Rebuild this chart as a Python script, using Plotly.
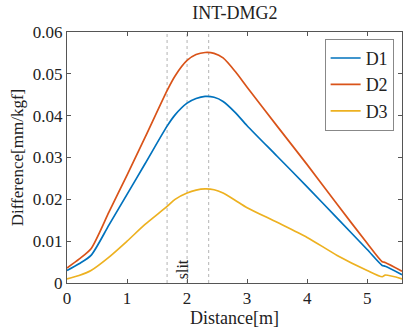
import plotly.graph_objects as go

distance = [0, 0.2, 0.4, 0.7, 1.0, 1.3, 1.667, 1.8, 2.0, 2.15, 2.3, 2.45, 2.6, 2.8, 3.0,
            3.5, 4.0, 4.5, 5.0, 5.25, 5.3, 5.58]
d1 = [0.0030, 0.0046, 0.0066, 0.0139, 0.0212, 0.0285, 0.0375, 0.0402, 0.0430, 0.0441, 0.0446,
      0.0444, 0.0434, 0.0408, 0.0376, 0.0303, 0.0230, 0.0155, 0.0080, 0.0042, 0.0040, 0.0020]
d2 = [0.0036, 0.0057, 0.0082, 0.0170, 0.0258, 0.0348, 0.0460, 0.0495, 0.0532, 0.0546, 0.0551,
      0.0549, 0.0538, 0.0506, 0.0468, 0.0375, 0.0283, 0.0188, 0.0095, 0.0051, 0.0049, 0.0028]
d3 = [0.0010, 0.0018, 0.0030, 0.0062, 0.0100, 0.0140, 0.0183, 0.0200, 0.0215, 0.0222, 0.0225,
      0.0223, 0.0215, 0.0198, 0.0180, 0.0145, 0.0109, 0.0066, 0.0030, 0.0015, 0.0019, 0.0010]
series_names = ["D1", "D2", "D3"]
slit_lines = [1.667, 2.0, 2.36]
x_ticks = [0, 1, 2, 3, 4, 5]
y_ticks = [0, 0.01, 0.02, 0.03, 0.04, 0.05, 0.06]
y_tick_labels = ["0", "0.01", "0.02", "0.03", "0.04", "0.05", "0.06"]

colors = ["#0072BD", "#D95319", "#EDB120"]
FONT = "Liberation Serif"

fig = go.Figure()
for name, ys, c in zip(series_names, [d1, d2, d3], colors):
    fig.add_trace(go.Scatter(x=distance, y=ys, mode="lines", name=name,
                             line=dict(color=c, width=1.7, shape="spline", smoothing=0.7)))

for xv in slit_lines:
    fig.add_shape(type="line", xref="x", yref="paper", x0=xv, x1=xv, y0=0, y1=1,
                  line=dict(color="#b4b4b4", width=1, dash="dot"), layer="below")

fig.add_annotation(x=1.917, y=0.0033, xref="x", yref="y", text="slit", showarrow=False,
                   textangle=-90, font=dict(family=FONT, size=16, color="#222"))

axis_common = dict(showline=True, linecolor="#555", linewidth=1, mirror="ticks",
                   ticks="inside", ticklen=4, tickcolor="#555", showgrid=False, zeroline=False,
                   automargin=False,
                   tickfont=dict(family=FONT, size=17, color="#222"))

fig.update_layout(
    width=403, height=331,
    margin=dict(l=67, r=1, t=32, b=48),
    paper_bgcolor="white", plot_bgcolor="white",
    title=dict(text="INT-DMG2", x=0.583, xanchor="center", y=1 - 13 / 331, yanchor="middle",
               yref="container", font=dict(family=FONT, size=18, color="#222")),
    xaxis=dict(range=[0, 5.58], tickvals=x_ticks,
               title=dict(text="Distance[m]", font=dict(family=FONT, size=18, color="#222"), standoff=2),
               **axis_common),
    yaxis=dict(range=[0, 0.06], tickvals=y_ticks, ticktext=y_tick_labels,
               title=dict(text="Difference[mm/kgf]", font=dict(family=FONT, size=17, color="#222"), standoff=4),
               **axis_common),
    legend=dict(x=0.975, y=0.973, xanchor="right", yanchor="top", bgcolor="white",
                bordercolor="#888", borderwidth=1,
                font=dict(family=FONT, size=18, color="#222"), tracegroupgap=0),
    showlegend=True,
)

fig.write_html("out.html", config={"displayModeBar": False},
               post_script="document.body.style.margin='0';document.body.style.overflow='hidden';")
